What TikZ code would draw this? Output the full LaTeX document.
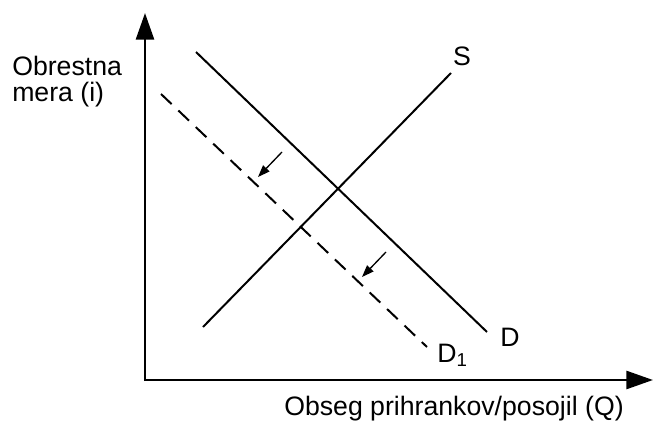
\documentclass[tikz,border=0pt]{standalone}
\usepackage{fontspec}
\setmainfont{Liberation Sans}
\usepackage{tikz}
\tikzset{
  axis/.style={line width=2pt, -{Triangle[length=20pt, width=13.5pt]}},
  curve/.style={line width=1.5pt},
  shiftarrow/.style={line width=1pt, -{Triangle[length=9pt, width=6.5pt]}},
  labeltext/.style={inner sep=0pt, font=\fontsize{20}{19}\selectfont}
}
\usetikzlibrary{positioning, arrows.meta}

\begin{document}
\begin{tikzpicture}[x=0.75pt, y=-0.75pt]
\useasboundingbox (0,0) rectangle (654,421);
\coordinate (origin) at (145,380);
\coordinate (ytip) at (145,13);
\coordinate (xtip) at (653,380);
\coordinate (dtop) at (196,52);
\coordinate (dbot) at (487,332);
\coordinate (donetop) at (161,94);
\coordinate (donebot) at (427,347);
\coordinate (sbot) at (203,327);
\coordinate (stop) at (451,73);
\coordinate (afrom) at (282,152);
\coordinate (ato) at (258,177);
\coordinate (bfrom) at (386,252);
\coordinate (bto) at (362,277);

\draw[axis] ([yshift=-0.75pt]origin) -- (ytip);
\draw[axis] ([xshift=-0.75pt]origin) -- (xtip);
\draw[curve] (dtop) -- (dbot);
\draw[curve, dash pattern=on 11pt off 7pt] (donetop) -- (donebot);
\draw[curve] (sbot) -- (stop);
\draw[shiftarrow] (afrom) -- (ato);
\draw[shiftarrow] (bfrom) -- (bto);

\node[labeltext, align=left, anchor=base west] (ylabel) at (12,101) {Obrestna\\mera (i)};
\node[labeltext, anchor=base] (xlabel) at (454,415) {Obseg prihrankov/posojil (Q)};
\node[labeltext, anchor=base] (slabel) at (462,65) {S};
\node[labeltext, anchor=base west] (dlabel) at (500,346) {D};
\node[labeltext, anchor=base west] (donelabel) at (437,362) {D\textsubscript{1}};
\end{tikzpicture}
\end{document}
